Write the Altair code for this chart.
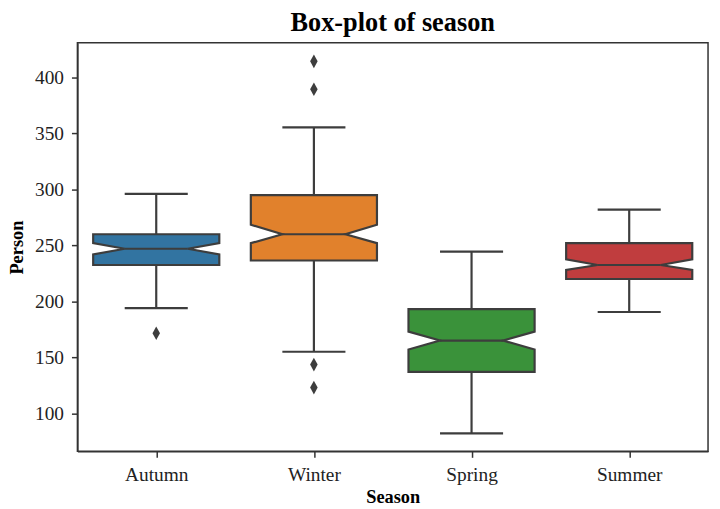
import altair as alt
import pandas as pd

# ---- data ----
seasons = ["Autumn", "Winter", "Spring", "Summer"]
whisker_low = [194, 155, 82, 190.5]
q1 = [232.5, 236.5, 137, 220]
notch_low = [242, 252, 157, 228]
median = [247, 260, 165, 232.5]
notch_high = [252, 268.5, 173, 237.5]
q3 = [260, 295, 193, 252]
whisker_high = [296, 355.5, 244.5, 282]
outlier_season = ["Autumn", "Winter", "Winter", "Winter", "Winter"]
outlier_value = [171.5, 414.5, 389.5, 143.5, 123]
colors = ["#3274a1", "#e1812c", "#3a923a", "#c03d3e"]

GRAY = "#3d3d3d"
BOX_HALF = 0.4
NOTCH_HALF = 0.2
CAP_HALF = 0.2

# ---- derived tables ----
box_rows = []
for i, s in enumerate(seasons):
    for k, (yv, hw) in enumerate([(q1[i], BOX_HALF), (notch_low[i], BOX_HALF),
                                  (median[i], NOTCH_HALF), (notch_high[i], BOX_HALF),
                                  (q3[i], BOX_HALF)]):
        box_rows.append({"season": s, "k": k, "y": yv, "xl": i - hw, "xr": i + hw})
box_df = pd.DataFrame(box_rows)

stat_df = pd.DataFrame({
    "season": seasons,
    "pos": list(range(len(seasons))),
    "q1": q1, "q3": q3, "median": median,
    "wlo": whisker_low, "whi": whisker_high,
})
stat_df["nl"] = stat_df["pos"] - NOTCH_HALF
stat_df["nr"] = stat_df["pos"] + NOTCH_HALF
stat_df["cl"] = stat_df["pos"] - CAP_HALF
stat_df["cr"] = stat_df["pos"] + CAP_HALF

out_df = pd.DataFrame({"season": outlier_season, "value": outlier_value})
out_df["pos"] = out_df["season"].map({s: i for i, s in enumerate(seasons)})

label_expr = "[" + ",".join("'" + s + "'" for s in seasons) + "][datum.value]"

xscale = alt.Scale(domain=[-0.5, len(seasons) - 0.5], nice=False, zero=False)
yscale = alt.Scale(domain=[66, 431], nice=False, zero=False)
xaxis = alt.Axis(values=list(range(len(seasons))), labelExpr=label_expr, title="Season",
                 grid=False, labelPadding=8, titlePadding=4)
yaxis = alt.Axis(values=[100, 150, 200, 250, 300, 350, 400], title="Person", grid=False,
                 labelPadding=8, titlePadding=8)

base_x = alt.X("xl:Q", scale=xscale, axis=xaxis)
base_y = alt.Y("y:Q", scale=yscale, axis=yaxis)

boxes = alt.Chart(box_df).mark_area(
    orient="horizontal", stroke=GRAY, strokeWidth=2.2, opacity=1, strokeJoin="miter"
).encode(
    y=base_y,
    x=base_x,
    x2="xr:Q",
    color=alt.Color("season:N", scale=alt.Scale(domain=seasons, range=colors), legend=None),
    detail="season:N",
)

w_up = alt.Chart(stat_df).mark_rule(color=GRAY, strokeWidth=2.2).encode(
    x=alt.X("pos:Q", scale=xscale, axis=xaxis), y=alt.Y("q3:Q", scale=yscale, axis=yaxis), y2="whi:Q")
w_lo = alt.Chart(stat_df).mark_rule(color=GRAY, strokeWidth=2.2).encode(
    x=alt.X("pos:Q", scale=xscale, axis=xaxis), y=alt.Y("q1:Q", scale=yscale, axis=yaxis), y2="wlo:Q")
cap_up = alt.Chart(stat_df).mark_rule(color=GRAY, strokeWidth=2.2).encode(
    x=alt.X("cl:Q", scale=xscale, axis=xaxis), x2="cr:Q", y=alt.Y("whi:Q", scale=yscale, axis=yaxis))
cap_lo = alt.Chart(stat_df).mark_rule(color=GRAY, strokeWidth=2.2).encode(
    x=alt.X("cl:Q", scale=xscale, axis=xaxis), x2="cr:Q", y=alt.Y("wlo:Q", scale=yscale, axis=yaxis))
med = alt.Chart(stat_df).mark_rule(color=GRAY, strokeWidth=2.2).encode(
    x=alt.X("nl:Q", scale=xscale, axis=xaxis), x2="nr:Q", y=alt.Y("median:Q", scale=yscale, axis=yaxis))

outliers = alt.Chart(out_df).mark_point(
    shape="M0,-1L0.55,0L0,1L-0.55,0Z", filled=True, color=GRAY, size=190, opacity=1
).encode(
    x=alt.X("pos:Q", scale=xscale, axis=xaxis),
    y=alt.Y("value:Q", scale=yscale, axis=yaxis),
)

chart = alt.layer(boxes, w_up, w_lo, cap_up, cap_lo, med, outliers).properties(
    width=636,
    height=412,
    autosize=alt.AutoSizeParams(type="none"),
    padding={"left": 70, "top": 33, "right": 4, "bottom": 56},
    title=alt.TitleParams("Box-plot of season", fontSize=26.5, fontWeight="bold",
                          font="Liberation Serif", offset=6, anchor="middle", color="#000000"),
).configure_view(
    stroke="#333333", strokeWidth=1.5
).configure_axis(
    labelFont="Liberation Serif", titleFont="Liberation Serif",
    labelFontSize=19.5, titleFontSize=18.5, titleFontWeight="bold",
    labelColor="#222222", titleColor="#000000",
    tickColor="#333333", tickSize=6, tickWidth=1.5,
    domainColor="#333333", domainWidth=1.5,
)

chart.save("out.html", embed_options={"renderer": "svg", "actions": False})
